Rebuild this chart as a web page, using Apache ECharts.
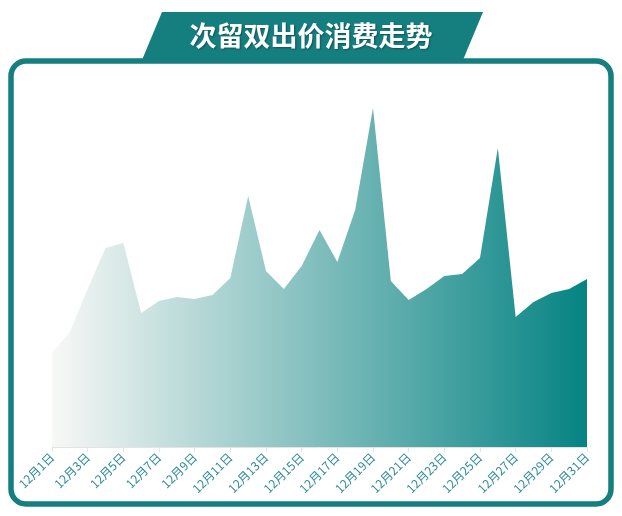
<!DOCTYPE html>
<html>
<head>
<meta charset="utf-8">
<script src="https://cdn.jsdelivr.net/npm/echarts@6/dist/echarts.min.js"></script>
<style>
html,body{margin:0;padding:0;background:#fff;}
#main{width:622px;height:516px;}
</style>
</head>
<body>
<div id="main"></div>
<script>
const titleText = '次留双出价消费走势';
const categories = ['12月1日','12月2日','12月3日','12月4日','12月5日','12月6日','12月7日','12月8日','12月9日','12月10日','12月11日','12月12日','12月13日','12月14日','12月15日','12月16日','12月17日','12月18日','12月19日','12月20日','12月21日','12月22日','12月23日','12月24日','12月25日','12月26日','12月27日','12月28日','12月29日','12月30日','12月31日'];
const values = [94,115,158,199,204,134,146,150,148,152,169,251,176,158,181,217,185,237,339,166,147,158,171,173,189,299,130,145,154,158,168];

const chart = echarts.init(document.getElementById('main'));
const teal = '#157f80';
chart.setOption({
  animation: false,
  backgroundColor: '#fff',
  grid: {left: 52, right: 35, top: 97, bottom: 69},
  xAxis: {
    type: 'category',
    data: categories,
    boundaryGap: false,
    axisLine: {lineStyle: {color: '#e3e3e3'}},
    axisTick: {show: true, interval: 1, length: 5, lineStyle: {color: '#e3e3e3'}},
    axisLabel: {interval: 1, rotate: 45, color: '#2e8b9a', fontSize: 12, margin: 8, fontFamily: 'Noto Sans CJK SC'}
  },
  yAxis: {
    type: 'value', min: 0, max: 350, show: false,
    splitLine: {show: false}
  },
  series: [{
    type: 'line',
    data: values,
    showSymbol: false,
    lineStyle: {width: 0},
    areaStyle: {
      opacity: 1,
      color: new echarts.graphic.LinearGradient(0, 0, 1, 0, [
        {offset: 0, color: '#f8f8f6'},
        {offset: 1, color: '#068383'}
      ])
    }
  }],
  graphic: [
    {
      type: 'rect', z: 10,
      shape: {x: 11, y: 61, width: 600, height: 443, r: 15},
      style: {fill: 'none', stroke: teal, lineWidth: 5.5}
    },
    {
      type: 'polygon', z: 11,
      shape: {points: [[162,12],[483,12],[463,60],[142,60]]},
      style: {fill: teal}
    },
    {
      type: 'text', z: 12,
      x: 311, y: 36,
      style: {
        text: titleText, fill: '#fff', fontSize: 27, fontWeight: 'bold',
        fontFamily: 'Noto Sans CJK SC', align: 'center', verticalAlign: 'middle',
        textShadowColor: 'rgba(0,0,0,0.35)', textShadowBlur: 2, textShadowOffsetX: 1, textShadowOffsetY: 1
      }
    }
  ]
});
</script>
</body>
</html>
